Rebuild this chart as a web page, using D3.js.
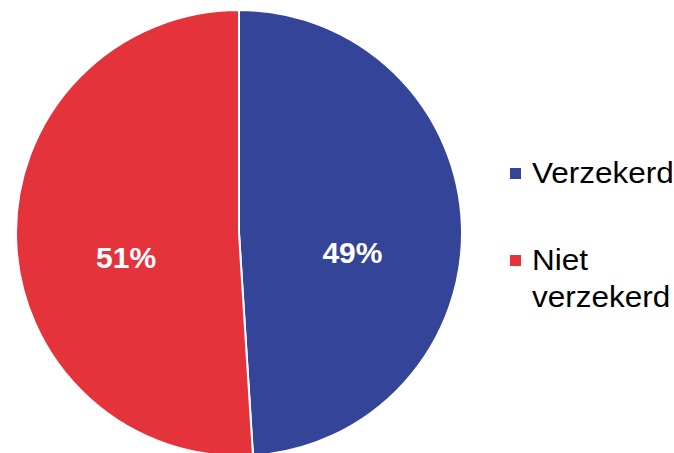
<!DOCTYPE html>
<html><head><meta charset="utf-8">
<script src="https://cdn.jsdelivr.net/npm/d3@7"></script>
<style>html,body{margin:0;padding:0;background:#fff;}</style>
</head><body>
<svg id="c" width="674" height="453"></svg>
<script>
const categories = ["Verzekerd", "Niet verzekerd"];
const values = [49, 51];
const labels = ["49%", "51%"];
const colors = ["#334499", "#E5333C"];
const legendLines = [["Verzekerd"], ["Niet", "verzekerd"]];

const svg = d3.select("#c");
const cx = 239, cy = 233, r = 223;
const g = svg.append("g").attr("transform", `translate(${cx},${cy})`);
const pie = d3.pie().sort(null).value(d => d)(values);
const arc = d3.arc().innerRadius(0).outerRadius(r);
g.selectAll("path").data(pie).join("path")
  .attr("d", arc).attr("fill", (d,i) => colors[i])
  .attr("stroke", "#fff").attr("stroke-width", 2);

const labelArc = d3.arc().innerRadius(r*0.5).outerRadius(r*0.5);
const dyOff = [33.5, 31.5], dxOff = [2, -1.5];
g.selectAll("text").data(pie).join("text")
  .attr("transform", (d,i) => { const c = labelArc.centroid(d); return `translate(${c[0] + dxOff[i]},${c[1] + dyOff[i]})`; })
  .attr("text-anchor", "middle")
  .attr("font-family", "Liberation Sans, Arial, sans-serif")
  .attr("font-weight", "bold").attr("font-size", 30)
  .attr("fill", "#fff").text((d,i) => labels[i]);

const lg = svg.append("g");
const ly = [183, 270];
categories.forEach((c, i) => {
  lg.append("rect").attr("x", 510).attr("y", ly[i] - 15).attr("width", 11).attr("height", 11).attr("fill", colors[i]);
  const t = lg.append("text").attr("x", 532).attr("y", ly[i])
    .attr("font-family", "Liberation Sans, Arial, sans-serif").attr("font-size", 30)
    .attr("textLength", null).attr("fill", "#000");
  legendLines[i].forEach((l, j) => t.append("tspan").attr("x", 532).attr("dy", j === 0 ? 0 : 37)
    .attr("transform", null).text(l));
  t.attr("transform", `translate(532,0) scale(1.05,1) translate(-532,0)`);
});
</script>
</body></html>
